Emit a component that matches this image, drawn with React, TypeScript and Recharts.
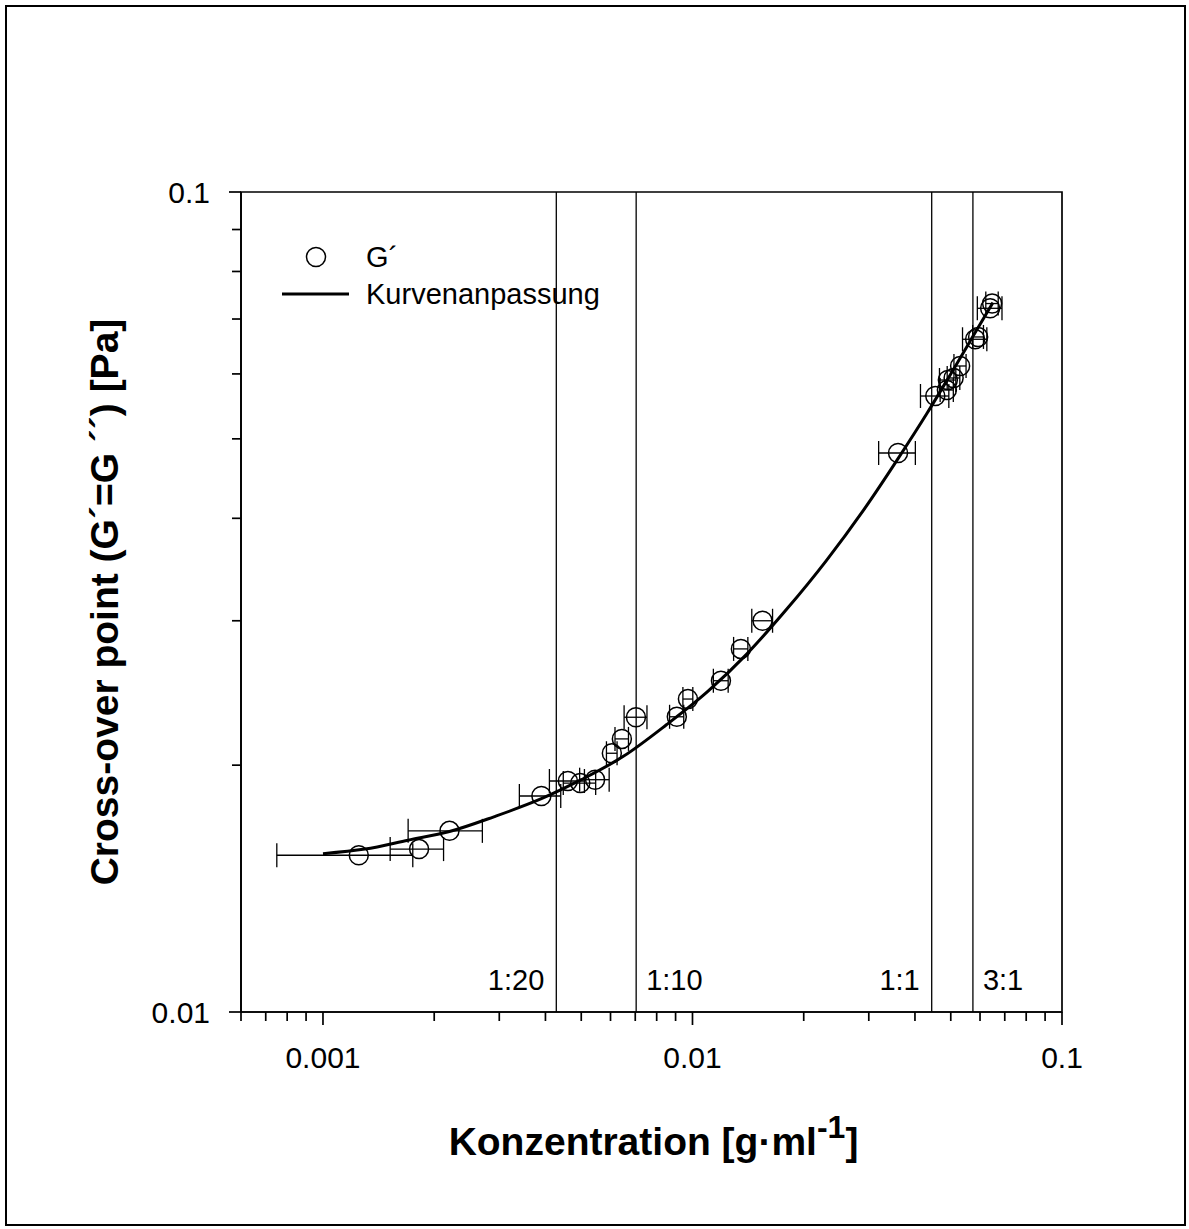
import React from "react";
import {
  ComposedChart,
  Scatter,
  Line,
  XAxis,
  YAxis,
  ErrorBar,
  ReferenceLine,
  ReferenceArea,
  Legend,
} from "recharts";

// measured points (concentration g/ml, cross-over point Pa, x error)
const conc = [
  0.00125, 0.00182, 0.0022, 0.0039, 0.0046, 0.00497, 0.00545, 0.00605, 0.00644,
  0.00703, 0.00907, 0.00972, 0.01194, 0.01352, 0.01547, 0.036, 0.0454, 0.0488,
  0.0491, 0.0509, 0.053, 0.0582, 0.0593, 0.0639, 0.0647,
];
const crossOver = [
  0.01553, 0.0158, 0.01663, 0.01834, 0.01913, 0.01902, 0.0192, 0.02068, 0.02153,
  0.02288, 0.02291, 0.02408, 0.02535, 0.02772, 0.03, 0.04805, 0.05639, 0.05735,
  0.05898, 0.05932, 0.06135, 0.06613, 0.06656, 0.07214, 0.07311,
];
const concErr = [
  0.0005, 0.0003, 0.0005, 0.0005, 0.0005, 0.0005, 0.0005, 0.0002, 0.00027,
  0.0005, 0.0004, 0.0003, 0.00055, 0.0006, 0.001, 0.0041, 0.004, 0.002, 0.0025,
  0.002, 0.002, 0.0044, 0.002, 0.0049, 0.0025,
];

// fitted curve
const fitConc = [
  0.001, 0.0013, 0.0017, 0.0022, 0.0029, 0.0039, 0.005, 0.0065, 0.0085, 0.011,
  0.014, 0.018, 0.023, 0.029, 0.036, 0.043, 0.05, 0.057, 0.065,
];
const fitCrossOver = [
  0.0156, 0.0158, 0.0162, 0.0166, 0.0173, 0.0182, 0.0192, 0.0205, 0.0224, 0.0246,
  0.0273, 0.031, 0.0355, 0.0409, 0.0473, 0.0536, 0.06, 0.0663, 0.0733,
];

// mixing ratio markers
const ratioConc = [0.00428, 0.00704, 0.0444, 0.0574];
const ratioLabels = ["1:20", "1:10", "1:1", "3:1"];
const ratioSide = ["left", "right", "left", "right"];

const xTicks = [
  0.0006, 0.0007, 0.0008, 0.0009, 0.001, 0.002, 0.003, 0.004, 0.005, 0.006,
  0.007, 0.008, 0.009, 0.01, 0.02, 0.03, 0.04, 0.05, 0.06, 0.07, 0.08, 0.09, 0.1,
];
const yTicks = [0.01, 0.02, 0.03, 0.04, 0.05, 0.06, 0.07, 0.08, 0.09, 0.1];

const points = conc.map((x, i) => ({ x, y: crossOver[i], xerr: concErr[i] }));
const fit = fitConc.map((x, i) => ({ x, y: fitCrossOver[i] }));

const W = 1189;
const H = 1229;
const PLOT_LEFT = 241;
const PLOT_TOP = 192;
const PLOT_RIGHT = 1062;
const PLOT_BOTTOM = 1012;
const FONT = "'Liberation Sans', Arial, sans-serif";

const isDecade = (v: number) =>
  Math.abs(Math.log10(v) - Math.round(Math.log10(v))) < 1e-6;

const XTick = (props: any) => {
  const { x, payload } = props;
  const v = payload.value;
  const major = isDecade(v);
  return (
    <g>
      <line
        x1={x}
        x2={x}
        y1={PLOT_BOTTOM}
        y2={PLOT_BOTTOM + (major ? 13 : 9)}
        stroke="#000"
        strokeWidth={1.7}
      />
      {major && (
        <text x={x} y={PLOT_BOTTOM + 56} textAnchor="middle" fontSize={30} fill="#000" fontFamily={FONT}>
          {String(v)}
        </text>
      )}
    </g>
  );
};

const YTick = (props: any) => {
  const { y, payload } = props;
  const v = payload.value;
  const major = isDecade(v);
  return (
    <g>
      <line
        x1={PLOT_LEFT - (major ? 12 : 9)}
        x2={PLOT_LEFT}
        y1={y}
        y2={y}
        stroke="#000"
        strokeWidth={1.7}
      />
      {major && (
        <text x={PLOT_LEFT - 31} y={y} dy="0.36em" textAnchor="end" fontSize={30} fill="#000" fontFamily={FONT}>
          {String(v)}
        </text>
      )}
    </g>
  );
};

const RatioLabel = (props: any) => {
  const { viewBox, text, side } = props;
  const x = viewBox ? viewBox.x : 0;
  return (
    <text
      x={side === "left" ? x - 12 : x + 10}
      y={990}
      textAnchor={side === "left" ? "end" : "start"}
      fontSize={29}
      fill="#000"
      fontFamily={FONT}
    >
      {text}
    </text>
  );
};

const XTitle = () => (
  <text
    x={(PLOT_LEFT + PLOT_RIGHT) / 2 + 2}
    y={1155}
    textAnchor="middle"
    fontSize={39}
    fontWeight="bold"
    fill="#000"
    fontFamily={FONT}
  >
    <tspan>Konzentration [g·ml</tspan>
    <tspan dy={-17} fontSize={32}>-1</tspan>
    <tspan dy={17}>]</tspan>
  </text>
);

const YTitle = () => (
  <text
    x={118}
    y={(PLOT_TOP + PLOT_BOTTOM) / 2}
    transform={`rotate(-90 118 ${(PLOT_TOP + PLOT_BOTTOM) / 2})`}
    textAnchor="middle"
    fontSize={39}
    fontWeight="bold"
    fill="#000"
    fontFamily={FONT}
  >
    Cross-over point (G´=G ´´) [Pa]
  </text>
);

const LegendBox = () => (
  <svg width={360} height={90} style={{ display: "block", overflow: "visible" }}>
    <circle cx={46} cy={24} r={9.5} fill="none" stroke="#000" strokeWidth={1.5} />
    <text x={96} y={24} dy="0.36em" fontSize={29} fill="#000" fontFamily={FONT}>
      G´
    </text>
    <line x1={12} x2={79} y1={61} y2={61} stroke="#000" strokeWidth={3} />
    <text x={96} y={61} dy="0.36em" fontSize={29} fill="#000" fontFamily={FONT}>
      Kurvenanpassung
    </text>
  </svg>
);

const Marker = (props: any) => {
  const { cx, cy } = props;
  if (cx == null || cy == null) return null;
  return <circle cx={cx} cy={cy} r={9.5} fill="none" stroke="#000" strokeWidth={1.5} />;
};

export default function App() {
  return (
    <div
      style={{
        position: "absolute",
        left: 0,
        top: 0,
        width: W,
        height: H,
        background: "#fff",
        fontFamily: FONT,
      }}
    >
      <div
        style={{
          position: "absolute",
          left: 5,
          top: 5,
          width: W - 8,
          height: H - 8,
          border: "2px solid #000",
          boxSizing: "border-box",
        }}
      />
      <ComposedChart
        width={W}
        height={H}
        margin={{ top: PLOT_TOP, right: W - PLOT_RIGHT, bottom: H - PLOT_BOTTOM - 60, left: PLOT_LEFT - 80 }}
      >
        <XAxis
          type="number"
          dataKey="x"
          scale="log"
          domain={[0.0006, 0.1]}
          allowDataOverflow
          ticks={xTicks}
          interval={0}
          tick={<XTick />}
          tickLine={false}
          tickSize={0}
          tickMargin={0}
          height={60}
          axisLine={{ stroke: "#000", strokeWidth: 1.7 }}
          label={<XTitle />}
        />
        <YAxis
          type="number"
          dataKey="y"
          scale="log"
          domain={[0.01, 0.1]}
          allowDataOverflow
          ticks={yTicks}
          interval={0}
          tick={<YTick />}
          tickLine={false}
          tickSize={0}
          tickMargin={0}
          width={80}
          axisLine={{ stroke: "#000", strokeWidth: 1.7 }}
          label={<YTitle />}
        />
        <ReferenceArea
          x1={0.0006}
          x2={0.1}
          y1={0.01}
          y2={0.1}
          fill="none"
          fillOpacity={0}
          stroke="#000"
          strokeWidth={1.7}
        />
        {ratioConc.map((c, i) => (
          <ReferenceLine
            key={ratioLabels[i]}
            x={c}
            stroke="#000"
            strokeWidth={1.3}
            label={<RatioLabel text={ratioLabels[i]} side={ratioSide[i]} />}
          />
        ))}
        <Scatter
          name="G´"
          data={points}
          dataKey="y"
          shape={<Marker />}
          isAnimationActive={false}
        >
          <ErrorBar dataKey="xerr" direction="x" width={12} stroke="#000" strokeWidth={1.3} />
        </Scatter>
        <Line
          name="Kurvenanpassung"
          data={fit}
          dataKey="y"
          type="monotone"
          stroke="#000"
          strokeWidth={3}
          dot={false}
          activeDot={false}
          isAnimationActive={false}
        />
        <Legend
          layout="vertical"
          align="center"
          verticalAlign="middle"
          content={() => <LegendBox />}
          wrapperStyle={{ left: 270, top: 233, width: 360, height: 90 }}
        />
      </ComposedChart>
    </div>
  );
}
